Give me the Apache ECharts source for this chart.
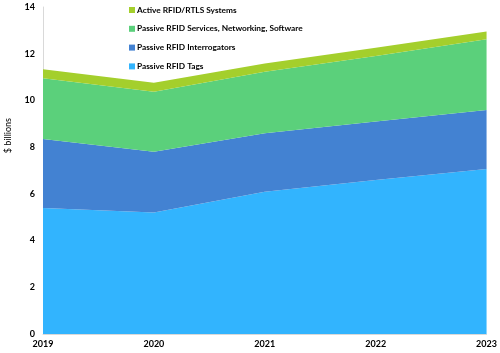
<!DOCTYPE html>
<html>
<head>
<meta charset="utf-8">
<script src="https://cdn.jsdelivr.net/npm/echarts@6/dist/echarts.min.js"></script>
<style>html,body{margin:0;padding:0;background:#fff;}#c{width:500px;height:353px;}</style>
</head>
<body>
<div id="c"></div>
<script>
var years = ['2019', '2020', '2021', '2022', '2023'];
var tags = [5.39, 5.20, 6.09, 6.59, 7.06];
var interrogators = [2.96, 2.60, 2.51, 2.51, 2.53];
var services = [2.60, 2.57, 2.63, 2.80, 3.03];
var active = [0.39, 0.39, 0.35, 0.36, 0.33];
var yTicks = [0, 2, 4, 6, 8, 10, 12, 14];

var font = 'Lato, "Open Sans", sans-serif';
function mk(name, data, color) {
  return {
    name: name, type: 'line', stack: 'total', data: data,
    symbol: 'none', lineStyle: { width: 0 },
    areaStyle: { color: color, opacity: 1 }, itemStyle: { color: color },
    emphasis: { disabled: true }
  };
}
var chart = echarts.init(document.getElementById('c'));
chart.setOption({
  animation: false,
  grid: { left: 43, right: 12, top: 7, bottom: 19, containLabel: false },
  legend: {
    orient: 'vertical', left: 124, top: 0, itemWidth: 6, itemHeight: 6, itemGap: 8.8,
    icon: 'rect',
    data: ['Active RFID/RTLS Systems', 'Passive RFID Services, Networking, Software', 'Passive RFID Interrogators', 'Passive RFID Tags'],
    textStyle: { fontFamily: font, fontWeight: 'bold', fontSize: 8.3, lineHeight: 10, color: '#000', padding: [0, 0, 0, -3] }
  },
  graphic: [{
    type: 'text', left: 4, top: 118, rotation: Math.PI / 2,
    style: { text: '$ billions', fontFamily: font, fontSize: 9, fill: '#000' }
  }],
  xAxis: {
    type: 'category', data: years, boundaryGap: false,
    axisLine: { lineStyle: { color: '#d9d9d9' } }, axisTick: { show: false },
    axisLabel: { fontFamily: font, fontWeight: 'bold', fontSize: 9, color: '#000', margin: 6 }
  },
  yAxis: {
    type: 'value', min: yTicks[0], max: yTicks[yTicks.length - 1], interval: 2,
    axisLine: { show: true, lineStyle: { color: '#d9d9d9' } }, axisTick: { show: false },
    splitLine: { show: false },
    axisLabel: { fontFamily: font, fontWeight: 'bold', fontSize: 9, color: '#000', margin: 8 }
  },
  series: [
    mk('Passive RFID Tags', tags, '#32b4fe'),
    mk('Passive RFID Interrogators', interrogators, '#4382d2'),
    mk('Passive RFID Services, Networking, Software', services, '#5bd07b'),
    mk('Active RFID/RTLS Systems', active, '#a4cf2c')
  ]
});
</script>
</body>
</html>
